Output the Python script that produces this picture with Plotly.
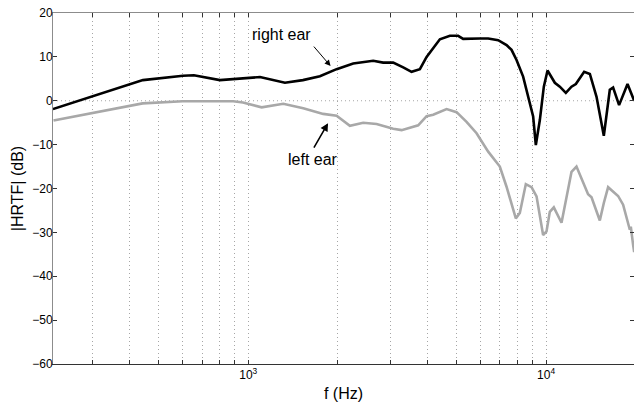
import plotly.graph_objects as go

# Right-ear HRTF magnitude (frequency in Hz, level in dB)
right_f = [221, 443, 604, 657, 803, 1013, 1095, 1328, 1526, 1740, 1980, 2251,
           2627, 2838, 3066, 3313, 3534, 3769, 3970, 4399, 4752, 5066, 5266,
           5991, 6391, 6903, 7364, 7654, 7956, 8372, 8700, 9046, 9235, 9526,
           9824, 10109, 10696, 11117, 11646, 12168, 12584, 13418, 14022, 14764,
           15620, 16361, 16785, 17577, 18762, 19585, 19750]
right_db = [-1.9, 4.7, 5.7, 5.8, 4.7, 5.3, 5.4, 4.1, 4.7, 5.6, 7.2, 8.5,
            9.1, 8.7, 8.7, 7.6, 6.6, 7.2, 10.0, 14.0, 14.8, 14.8, 14.1,
            14.2, 14.2, 13.8, 12.7, 11.6, 9.3, 5.5, 1.3, -3.6, -10.1, -4.4,
            3.2, 6.9, 4.1, 3.2, 1.8, 3.2, 3.8, 6.6, 6.1, 0.9,
            -8.0, 2.5, 3.0, -1.0, 3.8, 0.6, 0.0]

# Left-ear HRTF magnitude
left_f = [222, 301, 442, 602, 891, 960, 1109, 1311, 1530, 1785, 1980, 2194,
          2432, 2697, 3066, 3272, 3720, 3970, 4177, 4633, 5005, 5406, 5841,
          6391, 6992, 7364, 7912, 8160, 8548, 8933, 9286, 9770, 10030, 10289,
          10612, 11264, 12168, 12646, 13145, 13832, 14205, 15144, 15620, 16149,
          17443, 18132, 19098, 19244, 19585, 19750]
left_db = [-4.5, -2.7, -0.6, -0.1, -0.1, -0.4, -1.5, -0.7, -1.7, -3.0, -3.4, -5.7,
           -5.0, -5.3, -6.4, -6.7, -5.6, -3.5, -3.2, -1.9, -2.6, -4.8, -7.4,
           -11.6, -15.0, -19.6, -26.8, -25.6, -19.0, -19.7, -21.8, -30.6, -29.8, -25.3,
           -24.3, -27.8, -16.2, -15.0, -17.7, -21.3, -22.0, -27.3, -23.3, -19.7,
           -21.7, -23.7, -29.4, -28.7, -32.8, -34.5]

# Axis ticks
grid_f = [300, 400, 500, 600, 700, 800, 900, 1000,
          2000, 3000, 4000, 5000, 6000, 7000, 8000, 9000, 10000]
decade_labels = {1000: "10<sup>3</sup>", 10000: "10<sup>4</sup>"}
grid_text = [decade_labels.get(f, "") for f in grid_f]
y_ticks = [-60, -50, -40, -30, -20, -10, 0, 10, 20]

x_range = [2.3446, 4.2950]
y_range = [-60, 20]
dark_axis = "#333333"
light_axis = "#8c8c8c"
grid_color = "#a6a6a6"
font_family = "Liberation Sans, Arial, Helvetica, sans-serif"

fig = go.Figure()

fig.add_trace(go.Scatter(x=left_f, y=left_db, mode="lines",
                         line=dict(color="#a8a8a8", width=2.6),
                         showlegend=False, hoverinfo="skip"))
fig.add_trace(go.Scatter(x=right_f, y=right_db, mode="lines",
                         line=dict(color="#000000", width=2.6),
                         showlegend=False, hoverinfo="skip"))
# empty trace bound to the top/right tick axes so they get drawn
fig.add_trace(go.Scatter(x=[right_f[0]], y=[0], xaxis="x2", yaxis="y2",
                         mode="lines", line=dict(width=0),
                         showlegend=False, hoverinfo="skip"))

# dotted reference line at 0 dB
fig.add_shape(type="line", xref="paper", x0=0, x1=1, yref="y", y0=0, y1=0,
              line=dict(color=grid_color, width=1, dash="1px,3px"), layer="below")

fig.update_layout(
    width=634, height=403,
    margin=dict(l=53, r=0, t=13, b=39),
    paper_bgcolor="white", plot_bgcolor="white",
    font=dict(family=font_family, size=12, color="black"),
    xaxis=dict(
        type="log", range=x_range,
        tickmode="array", tickvals=grid_f, ticktext=grid_text,
        ticks="inside", ticklen=4, tickcolor=dark_axis, tickwidth=1,
        showgrid=True, gridcolor=grid_color, gridwidth=1, griddash="1px,3px",
        showline=True, linecolor=dark_axis, linewidth=1,
        zeroline=False,
        tickfont=dict(size=12),
        title=dict(text="f (Hz)", font=dict(size=16), standoff=6),
    ),
    xaxis2=dict(
        type="log", range=x_range, overlaying="x", side="top",
        tickmode="array", tickvals=grid_f, showticklabels=False,
        ticks="inside", ticklen=4, tickcolor=dark_axis,
        showgrid=False, zeroline=False,
        showline=True, linecolor=light_axis, linewidth=1,
    ),
    yaxis=dict(
        range=y_range, tickmode="array", tickvals=y_ticks,
        ticks="inside", ticklen=4, tickcolor=dark_axis, tickwidth=1,
        showgrid=False, zeroline=False,
        showline=True, linecolor=light_axis, linewidth=1,
        tickfont=dict(size=12), ticklabelstandoff=-3,
        title=dict(text="|HRTF| (dB)", font=dict(size=16), standoff=4),
    ),
    yaxis2=dict(
        range=y_range, overlaying="y", side="right",
        tickmode="array", tickvals=y_ticks, showticklabels=False,
        ticks="inside", ticklen=4, tickcolor=dark_axis,
        showgrid=False, zeroline=False, showline=False,
    ),
)

# labels with arrows
fig.add_annotation(x=3.1131, y=15.0, xref="x", yref="y", text="right ear",
                   showarrow=False, font=dict(size=16, color="black"))
fig.add_annotation(x=3.2765, y=7.9, xref="x", yref="y", text="",
                   showarrow=True, ax=-18, ay=-21, arrowhead=2, arrowsize=1.2,
                   arrowwidth=1, arrowcolor="black")
fig.add_annotation(x=3.2183, y=-13.3, xref="x", yref="y", text="left ear",
                   showarrow=False, font=dict(size=16, color="black"))
fig.add_annotation(x=3.268, y=-5.1, xref="x", yref="y", text="",
                   showarrow=True, ax=-15, ay=26, arrowhead=2, arrowsize=1,
                   arrowwidth=1.6, arrowcolor="black")

fig.write_html("out.html")
